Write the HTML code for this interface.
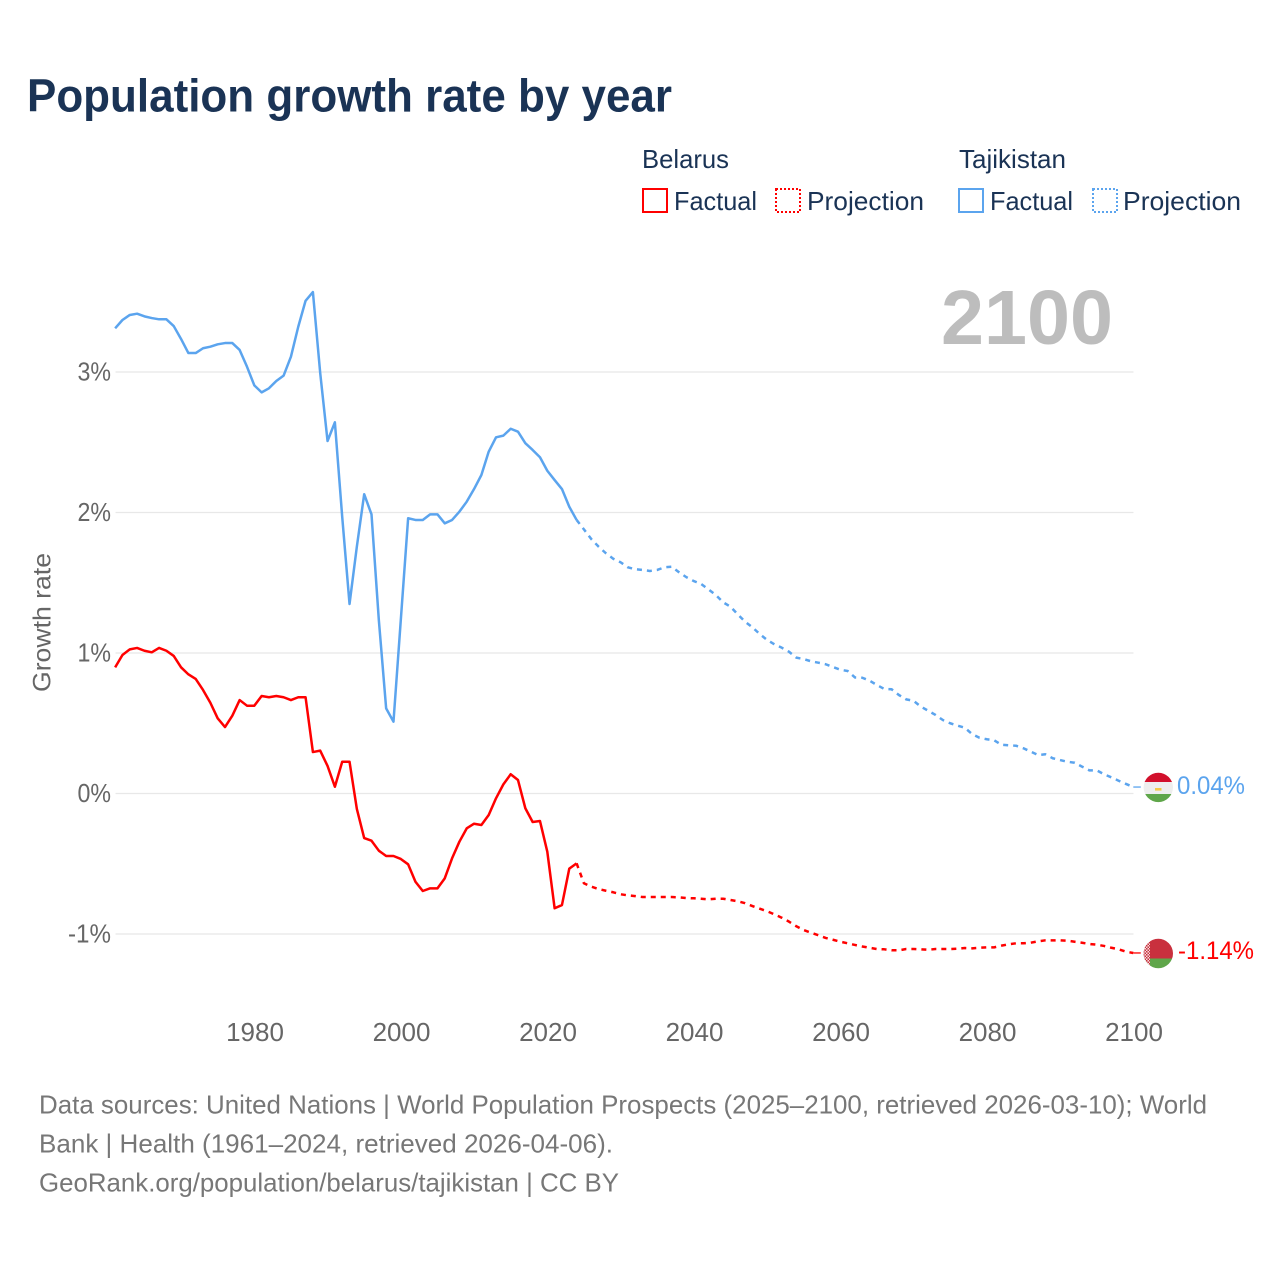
<!DOCTYPE html>
<html lang="en">
<head>
<meta charset="utf-8">
<title>Population growth rate by year</title>
<style>
html,body{margin:0;padding:0;background:#fff;}
svg{display:block;font-family:"Liberation Sans",sans-serif;}
</style>
</head>
<body>
<svg id="chart" xmlns="http://www.w3.org/2000/svg" width="1280" height="1280" viewBox="0 0 1280 1280">
  <rect x="0" y="0" width="1280" height="1280" fill="#fff"/>
  <text x="27" y="111.5" font-size="46" font-weight="700" fill="#1a3355" textLength="645" lengthAdjust="spacingAndGlyphs">Population growth rate by year</text>

  <g font-size="26" fill="#1a3355">
    <text x="642" y="168" textLength="87" lengthAdjust="spacingAndGlyphs">Belarus</text>
    <text x="959" y="168" textLength="107" lengthAdjust="spacingAndGlyphs">Tajikistan</text>
    <g>
      <rect x="643" y="189" width="24" height="23" fill="none" stroke="#ff0000" stroke-width="2"/>
      <text x="674" y="210" textLength="83" lengthAdjust="spacingAndGlyphs">Factual</text>
    </g>
    <g>
      <rect x="776" y="189" width="24" height="23" fill="none" stroke="#ff0000" stroke-width="2" stroke-dasharray="2 2"/>
      <text x="807" y="210" textLength="117" lengthAdjust="spacingAndGlyphs">Projection</text>
    </g>
    <g>
      <rect x="959" y="189" width="24" height="23" fill="none" stroke="#5ba4ee" stroke-width="2"/>
      <text x="990" y="210" textLength="83" lengthAdjust="spacingAndGlyphs">Factual</text>
    </g>
    <g>
      <rect x="1093" y="189" width="24" height="23" fill="none" stroke="#5ba4ee" stroke-width="2" stroke-dasharray="2 2"/>
      <text x="1123" y="210" textLength="118" lengthAdjust="spacingAndGlyphs">Projection</text>
    </g>
  </g>

  <text transform="translate(50.5,692) rotate(-90)" x="0" y="0" font-size="25" fill="#666" textLength="139" lengthAdjust="spacingAndGlyphs">Growth rate</text>

  <g id="grid"></g>
  <g id="yticks" font-size="26" fill="#666" text-anchor="end"></g>
  <g id="xticks" font-size="26" fill="#666" text-anchor="middle"></g>

  <text x="941" y="344" font-size="77" font-weight="700" fill="#bdbdbd" textLength="172" lengthAdjust="spacingAndGlyphs">2100</text>

  <g id="series"></g>

  <g>
    <clipPath id="clip-tj"><circle cx="1158.3" cy="787.4" r="14.7"/></clipPath>
    <g clip-path="url(#clip-tj)">
      <rect x="1143" y="772" width="31" height="10" fill="#d2102c"/>
      <rect x="1143" y="782" width="31" height="12" fill="#eeeeee"/>
      <rect x="1143" y="794" width="31" height="9" fill="#5fa64a"/>
      <rect x="1155" y="788" width="6.5" height="2.6" fill="#f5c94a"/>
    </g>
  </g>
  <g>
    <clipPath id="clip-by"><circle cx="1158.3" cy="953.5" r="14.7"/></clipPath>
    <pattern id="by-ornament" width="3" height="3" patternUnits="userSpaceOnUse">
      <rect width="3" height="3" fill="#f4dcdc"/>
      <rect width="1.5" height="1.5" fill="#c9303e"/>
      <rect x="1.5" y="1.5" width="1.5" height="1.5" fill="#c9303e"/>
    </pattern>
    <g clip-path="url(#clip-by)">
      <rect x="1143" y="938" width="31" height="20.5" fill="#c9303e"/>
      <rect x="1143" y="958.5" width="31" height="11" fill="#5fa64a"/>
      <rect x="1143" y="938" width="7" height="32" fill="url(#by-ornament)"/>
    </g>
  </g>

  <text x="1177" y="794" font-size="25" fill="#5ba4ee" textLength="68" lengthAdjust="spacingAndGlyphs">0.04%</text>
  <text x="1178" y="959" font-size="25" fill="#ff0000" textLength="76" lengthAdjust="spacingAndGlyphs">-1.14%</text>

  <g font-size="26" fill="#777">
    <text x="39" y="1113.5" textLength="1168" lengthAdjust="spacingAndGlyphs">Data sources: United Nations | World Population Prospects (2025–2100, retrieved 2026-03-10); World</text>
    <text x="39" y="1152.5" textLength="574" lengthAdjust="spacingAndGlyphs">Bank | Health (1961–2024, retrieved 2026-04-06).</text>
    <text x="39" y="1191.5" textLength="580" lengthAdjust="spacingAndGlyphs">GeoRank.org/population/belarus/tajikistan | CC BY</text>
  </g>
</svg>

<script>
const yTickValues = [3, 2, 1, 0, -1];
const yTickLabels = ["3%", "2%", "1%", "0%", "-1%"];
const xTickYears = [1980, 2000, 2020, 2040, 2060, 2080, 2100];
const factualStartYear = 1961;
const projectionStartYear = 2024;

const tajikistanFactual = [
  3.311,3.370,3.406,3.415,3.396,3.384,3.375,3.375,3.327,3.235,
  3.135,3.135,3.169,3.180,3.197,3.206,3.206,3.157,3.038,2.905,
  2.855,2.884,2.936,2.974,3.109,3.322,3.507,3.569,2.991,2.509,
  2.642,1.970,1.349,1.757,2.130,1.987,1.235,0.606,0.511,1.235,
  1.959,1.947,1.947,1.987,1.987,1.923,1.947,2.006,2.077,2.167,
  2.267,2.433,2.535,2.547,2.596,2.575,2.493,2.445,2.393,2.297,
  2.231,2.167,2.041,1.947
];
const tajikistanProjection = [
  1.947,1.880,1.811,1.757,1.710,1.671,1.646,1.610,1.596,1.591,
  1.584,1.591,1.610,1.614,1.574,1.539,1.512,1.491,1.453,1.413,
  1.361,1.330,1.275,1.223,1.183,1.135,1.093,1.062,1.038,1.009,
  0.967,0.957,0.941,0.931,0.920,0.900,0.881,0.872,0.826,0.824,
  0.803,0.772,0.744,0.742,0.701,0.670,0.660,0.618,0.589,0.559,
  0.523,0.500,0.483,0.468,0.423,0.397,0.386,0.379,0.347,0.343,
  0.340,0.322,0.298,0.274,0.279,0.251,0.238,0.226,0.219,0.191,
  0.165,0.165,0.137,0.115,0.091,0.068,0.046
];
const belarusFactual = [
  0.898,0.986,1.026,1.036,1.016,1.005,1.036,1.016,0.979,0.898,
  0.848,0.815,0.737,0.646,0.535,0.473,0.554,0.665,0.625,0.625,
  0.694,0.685,0.694,0.685,0.665,0.685,0.685,0.295,0.305,0.196,
  0.048,0.226,0.226,-0.110,-0.317,-0.336,-0.407,-0.445,-0.445,-0.466,
  -0.504,-0.628,-0.694,-0.675,-0.675,-0.604,-0.461,-0.343,-0.248,-0.215,
  -0.224,-0.153,-0.034,0.065,0.137,0.096,-0.105,-0.203,-0.196,-0.414,
  -0.817,-0.794,-0.535,-0.497
];
const belarusProjection = [
  -0.497,-0.639,-0.663,-0.680,-0.692,-0.703,-0.717,-0.725,-0.730,-0.737,
  -0.737,-0.737,-0.737,-0.737,-0.739,-0.744,-0.746,-0.749,-0.753,-0.749,
  -0.749,-0.758,-0.767,-0.781,-0.801,-0.820,-0.838,-0.860,-0.884,-0.912,
  -0.945,-0.972,-0.991,-1.009,-1.028,-1.041,-1.055,-1.066,-1.078,-1.089,
  -1.098,-1.107,-1.109,-1.116,-1.116,-1.107,-1.107,-1.109,-1.112,-1.107,
  -1.107,-1.107,-1.105,-1.100,-1.102,-1.098,-1.095,-1.095,-1.083,-1.073,
  -1.066,-1.066,-1.062,-1.052,-1.045,-1.045,-1.045,-1.048,-1.055,-1.062,
  -1.071,-1.076,-1.085,-1.098,-1.109,-1.126,-1.135
];

const NS = "http://www.w3.org/2000/svg";
function xScale(year) { return 254.3 + (year - 1980) * 7.325; }
function yScale(v) { return 793.5 - v * 140.5; }
function pathFrom(values, startYear) {
  return values.map(function (v, i) {
    return (i ? "L" : "M") + xScale(startYear + i).toFixed(2) + " " + yScale(v).toFixed(2);
  }).join(" ");
}

const gridGroup = document.getElementById("grid");
const yTickGroup = document.getElementById("yticks");
const xTickGroup = document.getElementById("xticks");
const seriesGroup = document.getElementById("series");

yTickValues.forEach(function (v, i) {
  const line = document.createElementNS(NS, "line");
  
  
  line.setAttribute("x1", 115.5);
  line.setAttribute("x2", 1133.5);
  line.setAttribute("y1", yScale(v));
  line.setAttribute("y2", yScale(v));
  line.setAttribute("stroke", "#e8e8e8");
  line.setAttribute("stroke-width", "1.3");
  gridGroup.appendChild(line);

  const label = document.createElementNS(NS, "text");
  
  
  label.setAttribute("x", 111);
  label.setAttribute("y", yScale(v) + 8.5);
  label.setAttribute("textLength", yTickLabels[i].length === 3 ? 43 : 33.5);
  label.setAttribute("lengthAdjust", "spacingAndGlyphs");
  label.textContent = yTickLabels[i];
  yTickGroup.appendChild(label);
});

xTickYears.forEach(function (year) {
  const label = document.createElementNS(NS, "text");
  
  
  label.setAttribute("x", xScale(year) + 0.7);
  label.setAttribute("y", 1041);
  label.textContent = String(year);
  xTickGroup.appendChild(label);
});

function drawLine(values, startYear, color, dashed, name) {
  const path = document.createElementNS(NS, "path");
  
  
  path.setAttribute("d", pathFrom(values, startYear));
  path.setAttribute("fill", "none");
  path.setAttribute("stroke", color);
  path.setAttribute("stroke-width", "2.5");
  path.setAttribute("stroke-linejoin", "round");
  if (dashed) path.setAttribute("stroke-dasharray", "5 5");
  seriesGroup.appendChild(path);
}
function drawConnector(lastValue, color, name) {
  const line = document.createElementNS(NS, "line");
  
  
  line.setAttribute("x1", xScale(2100));
  line.setAttribute("x2", xScale(2100) + 7.5);
  line.setAttribute("y1", yScale(lastValue));
  line.setAttribute("y2", yScale(lastValue));
  line.setAttribute("stroke", color);
  line.setAttribute("stroke-width", "1.3");
  seriesGroup.appendChild(line);
}

drawLine(tajikistanFactual, factualStartYear, "#5ba4ee", false, "line-tajikistan-factual");
drawLine(tajikistanProjection, projectionStartYear, "#5ba4ee", true, "line-tajikistan-projection");
drawLine(belarusFactual, factualStartYear, "#ff0000", false, "line-belarus-factual");
drawLine(belarusProjection, projectionStartYear, "#ff0000", true, "line-belarus-projection");
drawConnector(tajikistanProjection[tajikistanProjection.length - 1], "#5ba4ee", "connector-tajikistan");
drawConnector(belarusProjection[belarusProjection.length - 1], "#ff0000", "connector-belarus");
</script>
</body>
</html>
